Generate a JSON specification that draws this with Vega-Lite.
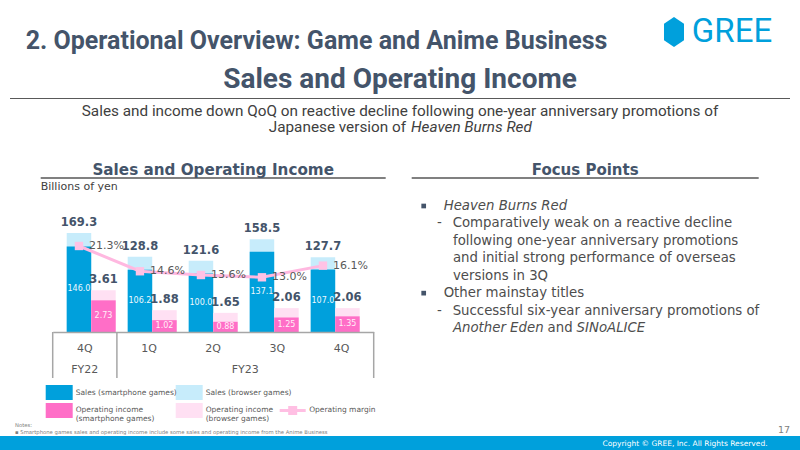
{
"$schema":"https://vega.github.io/schema/vega-lite/v6.json",
"background":"white",
"padding":{"top":14,"left":0,"right":0,"bottom":0},
"config":{"view":{"stroke":null},"font":"DejaVu Sans","title":{"fontWeight":"normal","font":"DejaVu Sans"},"axis":{"labelFont":"DejaVu Sans"},"text":{"font":"DejaVu Sans"}},
"datasets":{
 "one":[{"k":1}],
 "chart":[
  {"period":"FY22 4Q","quarter":"4Q","fy":"FY22","sales_total":169.3,"sales_sp":146.0,"inc_total":3.61,"inc_sp":2.73,"margin":0.213},
  {"period":"FY23 1Q","quarter":"1Q","fy":"FY23","sales_total":128.8,"sales_sp":106.2,"inc_total":1.88,"inc_sp":1.02,"margin":0.146},
  {"period":"FY23 2Q","quarter":"2Q","fy":"FY23","sales_total":121.6,"sales_sp":100.0,"inc_total":1.65,"inc_sp":0.88,"margin":0.136},
  {"period":"FY23 3Q","quarter":"3Q","fy":"FY23","sales_total":158.5,"sales_sp":137.1,"inc_total":2.06,"inc_sp":1.25,"margin":0.130},
  {"period":"FY23 4Q","quarter":"4Q","fy":"FY23","sales_total":127.7,"sales_sp":107.0,"inc_total":2.06,"inc_sp":1.35,"margin":0.161}
 ],
 "legendItems":[
  {"key":"Sales (smartphone games)","col":1,"row":1,"label":"Sales (smartphone games)"},
  {"key":"Sales (browser games)","col":2,"row":1,"label":"Sales (browser games)"},
  {"key":"Operating income (smartphone games)","col":1,"row":2,"label":["Operating income","(smartphone games)"]},
  {"key":"Operating income (browser games)","col":2,"row":2,"label":["Operating income","(browser games)"]}
 ],
 "marginItem":[{"col":3,"row":2,"label":"Operating margin"}],
 "subPlain":[
  {"line":1,"text":"Sales and income down QoQ on reactive decline following one-year anniversary promotions of"},
  {"line":2,"text":"Japanese version of\u00a0\u00a0\u00a0\u00a0\u00a0\u00a0\u00a0\u00a0\u00a0\u00a0\u00a0\u00a0\u00a0\u00a0\u00a0\u00a0\u00a0\u00a0\u00a0\u00a0\u00a0\u00a0\u00a0\u00a0\u00a0\u00a0\u00a0\u00a0\u00a0\u00a0\u00a0\u00a0\u00a0\u200b"}
 ],
 "subItalic":[
  {"line":2,"text":"\u200b\u00a0\u00a0\u00a0\u00a0\u00a0\u00a0\u00a0\u00a0\u00a0\u00a0\u00a0\u00a0\u00a0\u00a0\u00a0\u00a0\u00a0\u00a0\u00a0\u00a0\u00a0\u00a0\u00a0\u00a0\u00a0\u00a0\u00a0\u00a0\u00a0\u00a0\u00a0\u00a0\u00a0\u00a0\u00a0\u00a0\u00a0\u00a0Heaven Burns Red"}
 ],
 "focusPlain":[
  {"line":2,"text":"\u200b\u2002\u2002-\u2002\u00a0Comparatively weak on a reactive decline"},
  {"line":3,"text":"\u200b\u2002\u2002\u2002\u2002\u2009following one-year anniversary promotions"},
  {"line":4,"text":"\u200b\u2002\u2002\u2002\u2002\u2009and initial strong performance of overseas"},
  {"line":5,"text":"\u200b\u2002\u2002\u2002\u2002\u2009versions in 3Q"},
  {"line":6,"text":"\u200b\u2002\u2002\u2002Other mainstay titles"},
  {"line":7,"text":"\u200b\u2002\u2002-\u2002\u00a0Successful six-year anniversary promotions of"},
  {"line":8,"text":"\u200b\u2002\u2002\u2002\u2002\u2002\u2002\u2002\u2002\u2002\u2002\u2002\u2002\u2002\u2002\u2002\u2002\u2002\u2002\u00a0and"}
 ],
 "focusItalic":[
  {"line":1,"text":"\u200b\u2002\u2002\u2002Heaven Burns Red"},
  {"line":8,"text":"\u200b\u2002\u2002\u2002\u2002\u2009Another Eden"},
  {"line":8,"text":"\u200b\u2002\u2002\u2002\u2002\u2002\u2002\u2002\u2002\u2002\u2002\u2002\u2002\u2002\u2002\u2002\u2002\u2002\u2002\u2002\u2002\u2002\u2002\u2002SINoALICE"}
 ],
 "bullets":[{"line":1},{"line":6}]
},
"spacing":0,
"center":true,
"vconcat":[
 {"hconcat":[
   {"width":613,"height":48,"data":{"name":"one"},"mark":{"type":"text","text":"2. Operational Overview: Game and Anime Business","font":"Roboto","fontSize":25,"fontWeight":"bold","color":"#44546a","baseline":"middle"}},
   {"width":39,"height":1,"data":{"name":"one"},"mark":{"type":"point","opacity":0}},
   {"width":24,"height":30,"data":{"name":"one"},"mark":{"type":"point","shape":"M0,-1L0.667,-0.55L0.667,0.55L0,1L-0.667,0.55L-0.667,-0.55Z","size":900,"filled":true,"color":"#00a0dc","opacity":1}},
   {"width":92,"height":30,"data":{"name":"one"},"mark":{"type":"text","text":"GREE","font":"Roboto","fontSize":33,"color":"#00a0dc","baseline":"middle"}},
   {"width":12,"height":1,"data":{"name":"one"},"mark":{"type":"point","opacity":0}}
  ],"spacing":0},
 {"width":780,"height":1,"data":{"name":"one"},"mark":{"type":"point","opacity":0},"view":{"fill":"#595959"},
  "title":{"text":"Sales and Operating Income","font":"Roboto","fontSize":28,"fontWeight":"bold","color":"#44546a","anchor":"middle","offset":2}},
 {"width":780,"height":61,
  "layer":[
   {"data":{"name":"subPlain"},"mark":{"type":"text","font":"Roboto","fontSize":15.3,"color":"#404040","baseline":"middle"},
    "encoding":{"y":{"field":"line","type":"quantitative","scale":{"domain":[0.4375,4.25],"reverse":true,"nice":false,"zero":false},"axis":null},"text":{"field":"text","type":"nominal"}}},
   {"data":{"name":"subItalic"},"mark":{"type":"text","font":"Roboto","fontSize":15.3,"fontStyle":"italic","color":"#404040","baseline":"middle"},
    "encoding":{"y":{"field":"line","type":"quantitative","scale":{"domain":[0.4375,4.25],"reverse":true,"nice":false,"zero":false},"axis":null},"text":{"field":"text","type":"nominal"}}}
  ]},
 {"hconcat":[
   {"vconcat":[
     {"width":345,"height":2,"data":{"name":"one"},"mark":{"type":"point","opacity":0},"view":{"fill":"#808080"},
      "title":{"text":"Sales and Operating Income","fontSize":15.2,"fontWeight":"bold","color":"#44546a","anchor":"middle","offset":-3}},
     {"vconcat":[
       {"width":345,"height":132,"data":{"name":"chart"},
        "title":{"text":"Billions of yen","anchor":"start","frame":"group","fontSize":11,"color":"#404040","offset":8},
        "layer":[
           {"mark":{"type":"rule","strokeWidth":24.5,"strokeCap":"butt","color":"#c7ecfb"},"encoding":{
             "x":{"field":"period","type":"nominal","sort":null,"bandPosition":0.25,"scale":{"type":"band","paddingInner":0.197,"paddingOuter":0.4265},"axis":null},
             "y":{"field":"sales_total","type":"quantitative","scale":{"domain":[0,225.6]},"axis":null},
             "y2":{"datum":0}}},
           {"mark":{"type":"rule","strokeWidth":24.5,"strokeCap":"butt","color":"#00a0dc"},"encoding":{
             "x":{"field":"period","type":"nominal","sort":null,"bandPosition":0.25},
             "y":{"field":"sales_sp","type":"quantitative","scale":{"domain":[0,225.6]},"axis":null},
             "y2":{"datum":0}}},
           {"mark":{"type":"rule","strokeWidth":24.5,"strokeCap":"butt","color":"#ffe0f3"},"encoding":{
             "x":{"field":"period","type":"nominal","sort":null,"bandPosition":0.75},
             "y":{"field":"inc_total","type":"quantitative","scale":{"domain":[0,11.38]},"axis":null},
             "y2":{"datum":0}}},
           {"mark":{"type":"rule","strokeWidth":24.5,"strokeCap":"butt","color":"#ff6ec7"},"encoding":{
             "x":{"field":"period","type":"nominal","sort":null,"bandPosition":0.75},
             "y":{"field":"inc_sp","type":"quantitative","scale":{"domain":[0,11.38]},"axis":null},
             "y2":{"datum":0}}},
           {"mark":{"type":"line","strokeWidth":3,"color":"#ffb8e0"},"encoding":{
             "x":{"field":"period","type":"nominal","sort":null,"bandPosition":0.25},
             "y":{"field":"margin","type":"quantitative","scale":{"domain":[-0.0151,0.335]},"axis":null}}},
           {"mark":{"type":"point","shape":"square","filled":true,"size":70,"color":"#ffc2e5","opacity":1},"encoding":{
             "x":{"field":"period","type":"nominal","sort":null,"bandPosition":0.25},
             "y":{"field":"margin","type":"quantitative","scale":{"domain":[-0.0151,0.335]},"axis":null}}},
           {"mark":{"type":"text","align":"left","baseline":"middle","dx":10,"fontSize":11,"color":"#595959"},"encoding":{
             "x":{"field":"period","type":"nominal","sort":null,"bandPosition":0.25},
             "y":{"field":"margin","type":"quantitative","scale":{"domain":[-0.0151,0.335]},"axis":null},
             "text":{"field":"margin","type":"quantitative","format":".1%"}}},
           {"mark":{"type":"text","baseline":"bottom","dy":-5,"fontSize":11.5,"fontWeight":"bold","color":"#44546a"},"encoding":{
             "x":{"field":"period","type":"nominal","sort":null,"bandPosition":0.25},
             "y":{"field":"sales_total","type":"quantitative","scale":{"domain":[0,225.6]},"axis":null},
             "text":{"field":"sales_total","type":"quantitative","format":".1f"}}},
           {"mark":{"type":"text","baseline":"bottom","dy":-5,"fontSize":11.5,"fontWeight":"bold","color":"#44546a"},"encoding":{
             "x":{"field":"period","type":"nominal","sort":null,"bandPosition":0.75},
             "y":{"field":"inc_total","type":"quantitative","scale":{"domain":[0,11.38]},"axis":null},
             "text":{"field":"inc_total","type":"quantitative","format":".2f"}}},
           {"mark":{"type":"text","baseline":"middle","fontSize":8,"color":"#eef8fd"},"encoding":{
             "x":{"field":"period","type":"nominal","sort":null,"bandPosition":0.25},
             "y":{"field":"sales_sp","type":"quantitative","scale":{"domain":[0,451.2]},"axis":null},
             "text":{"field":"sales_sp","type":"quantitative","format":".1f"}}},
           {"mark":{"type":"text","baseline":"middle","fontSize":8,"color":"#fff0f8"},"encoding":{
             "x":{"field":"period","type":"nominal","sort":null,"bandPosition":0.75},
             "y":{"field":"inc_sp","type":"quantitative","scale":{"domain":[0,22.76]},"axis":null},
             "text":{"field":"inc_sp","type":"quantitative","format":".2f"}}}
        ],
        "resolve":{"scale":{"y":"independent"}}},
       {"width":321,"height":46,"data":{"name":"chart"},
        "layer":[
         {"mark":{"type":"text","fontSize":11,"color":"#595959","baseline":"middle","dy":-6},
          "encoding":{"x":{"field":"period","type":"nominal","sort":null,"scale":{"type":"band","paddingInner":0,"paddingOuter":0,"domain":["FY22 4Q","FY23 1Q","FY23 2Q","FY23 3Q","FY23 4Q"]},
             "axis":{"orient":"top","title":null,"domain":true,"domainColor":"#a6a6a6","domainWidth":1.5,"ticks":false,"labels":false,"grid":false}},
            "text":{"field":"quarter","type":"nominal"}}},
         {"transform":[{"filter":"datum.period=='FY22 4Q' || datum.period=='FY23 1Q'"}],"mark":{"type":"rule","color":"#a6a6a6","strokeWidth":1.5},
          "encoding":{"x":{"field":"period","type":"nominal","sort":null,"bandPosition":0}}},
         {"transform":[{"filter":"datum.period=='FY23 4Q'"}],"mark":{"type":"rule","color":"#a6a6a6","strokeWidth":1.5},
          "encoding":{"x":{"field":"period","type":"nominal","sort":null,"bandPosition":1}}},
         {"transform":[{"filter":"datum.period=='FY22 4Q'"}],"mark":{"type":"text","fontSize":11,"color":"#595959","baseline":"middle","dy":15},
          "encoding":{"x":{"field":"period","type":"nominal","sort":null,"bandPosition":0.5},"text":{"field":"fy","type":"nominal"}}},
         {"transform":[{"filter":"datum.period=='FY23 2Q'"}],"mark":{"type":"text","fontSize":11,"color":"#595959","baseline":"middle","dy":15},
          "encoding":{"x":{"field":"period","type":"nominal","sort":null,"bandPosition":1},"text":{"field":"fy","type":"nominal"}}}
        ]},
       {"width":345,"height":42,
        "layer":[
         {"data":{"name":"legendItems"},"mark":{"type":"point","shape":"M-0.9,-0.5H0.9V0.5H-0.9Z","size":900,"filled":true,"opacity":1},
          "encoding":{
            "x":{"field":"col","type":"quantitative","scale":{"domain":[1,2,3],"range":[18.5,148.5,252],"nice":false,"zero":false},"axis":null},
            "y":{"field":"row","type":"quantitative","scale":{"domain":[0.194,2.528],"reverse":true,"nice":false,"zero":false},"axis":null},
            "color":{"field":"key","type":"nominal","scale":{"domain":["Sales (smartphone games)","Sales (browser games)","Operating income (smartphone games)","Operating income (browser games)"],"range":["#00a0dc","#c7ecfb","#ff6ec7","#ffe0f3"]},"legend":null}}},
         {"data":{"name":"legendItems"},"mark":{"type":"text","align":"left","baseline":"middle","dx":16.5,"fontSize":7.5,"lineHeight":8.5,"color":"#595959"},
          "encoding":{
            "x":{"field":"col","type":"quantitative"},
            "y":{"field":"row","type":"quantitative"},
            "text":{"field":"label","type":"nominal"}}},
         {"data":{"name":"marginItem"},"mark":{"type":"point","shape":"M-0.867,-0.1H-0.3V-0.3H0.3V-0.1H0.867V0.1H0.3V0.3H-0.3V0.1H-0.867Z","size":900,"filled":true,"color":"#ffbfe3","opacity":1},
          "encoding":{"x":{"field":"col","type":"quantitative"},"y":{"field":"row","type":"quantitative"}}},
         {"data":{"name":"marginItem"},"mark":{"type":"text","align":"left","baseline":"middle","dx":16.5,"fontSize":7.5,"color":"#595959"},
          "encoding":{"x":{"field":"col","type":"quantitative"},"y":{"field":"row","type":"quantitative"},"text":{"field":"label","type":"nominal"}}}
        ]}
      ],"spacing":0,"bounds":"flush","center":true}
    ],"spacing":0},
   {"vconcat":[
     {"width":347,"height":2,"data":{"name":"one"},"mark":{"type":"point","opacity":0},"view":{"fill":"#808080"},
      "title":{"text":"Focus Points","fontSize":15,"fontWeight":"bold","color":"#44546a","anchor":"middle","offset":-3}},
     {"width":24,"height":122,
      "layer":[
       {"data":{"name":"bullets"},"mark":{"type":"point","shape":"square","filled":true,"size":22,"color":"#44546a","opacity":1},
        "encoding":{"y":{"field":"line","type":"quantitative","scale":{"domain":[1,8],"reverse":true,"nice":false,"zero":false},"axis":null}}},
       {"data":{"name":"focusPlain"},"mark":{"type":"text","align":"left","baseline":"middle","fontSize":13.3,"color":"#4d4d4d"},
        "encoding":{"y":{"field":"line","type":"quantitative","scale":{"domain":[1,8],"reverse":true,"nice":false,"zero":false},"axis":null},"text":{"field":"text","type":"nominal"}}},
       {"data":{"name":"focusItalic"},"mark":{"type":"text","align":"left","baseline":"middle","fontSize":13.3,"fontStyle":"italic","color":"#4d4d4d"},
        "encoding":{"y":{"field":"line","type":"quantitative","scale":{"domain":[1,8],"reverse":true,"nice":false,"zero":false},"axis":null},"text":{"field":"text","type":"nominal"}}}
      ]}
    ],"spacing":18}
  ],"spacing":26},
 {"hconcat":[
   {"width":570,"height":15,"data":{"name":"one"},"mark":{"type":"point","opacity":0},"view":{"fill":"#00a0dc"},
    "title":{"text":["Notes:","\u25aa  Smartphone games sales and operating income include some sales and operating income from the Anime Business"],"anchor":"start","fontSize":5.3,"lineHeight":6.5,"color":"#808080","dx":15,"offset":1}},
   {"width":230,"height":15,"data":{"name":"one"},"mark":{"type":"text","text":"Copyright \u00a9 GREE, Inc. All Rights Reserved.","color":"white","fontSize":7.5,"baseline":"middle"},"view":{"fill":"#00a0dc"},
    "title":{"text":"17","anchor":"end","fontSize":9.5,"color":"#808080","dx":-10,"offset":2}}
  ],"spacing":0,"bounds":"flush"}
]
}
